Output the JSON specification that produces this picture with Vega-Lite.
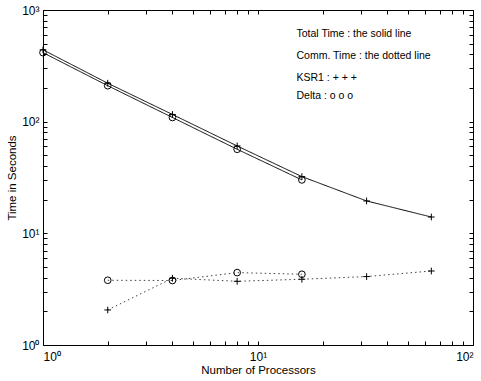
{
  "$schema": "https://vega.github.io/schema/vega-lite/v6.json",
  "autosize": "none",
  "width": 430,
  "height": 335,
  "padding": {"left": 43, "top": 10, "right": 8, "bottom": 36},
  "background": "white",
  "config": {
    "view": {"stroke": "black", "strokeWidth": 1},
    "font": "Liberation Sans",
    "axis": {"labelFont": "Liberation Sans", "titleFont": "Liberation Sans", "labelColor": "black", "titleColor": "black", "domain": false, "grid": false, "tickColor": "black", "tickSize": -4, "labelFontSize": 12, "titleFontSize": 11.5, "titleFontWeight": "normal"}
  },
  "datasets": {
    "series": [
      {"p": 1, "time": 440, "machine": "KSR1", "kind": "Total"},
      {"p": 2, "time": 221, "machine": "KSR1", "kind": "Total"},
      {"p": 4, "time": 116, "machine": "KSR1", "kind": "Total"},
      {"p": 8, "time": 60.6, "machine": "KSR1", "kind": "Total"},
      {"p": 16, "time": 32.2, "machine": "KSR1", "kind": "Total"},
      {"p": 32, "time": 19.5, "machine": "KSR1", "kind": "Total"},
      {"p": 64, "time": 14.0, "machine": "KSR1", "kind": "Total"},
      {"p": 1, "time": 415, "machine": "Delta", "kind": "Total"},
      {"p": 2, "time": 210, "machine": "Delta", "kind": "Total"},
      {"p": 4, "time": 109, "machine": "Delta", "kind": "Total"},
      {"p": 8, "time": 56.6, "machine": "Delta", "kind": "Total"},
      {"p": 16, "time": 30.1, "machine": "Delta", "kind": "Total"},
      {"p": 2, "time": 2.06, "machine": "KSR1", "kind": "Comm"},
      {"p": 4, "time": 3.96, "machine": "KSR1", "kind": "Comm"},
      {"p": 8, "time": 3.72, "machine": "KSR1", "kind": "Comm"},
      {"p": 16, "time": 3.88, "machine": "KSR1", "kind": "Comm"},
      {"p": 32, "time": 4.1, "machine": "KSR1", "kind": "Comm"},
      {"p": 64, "time": 4.6, "machine": "KSR1", "kind": "Comm"},
      {"p": 2, "time": 3.8, "machine": "Delta", "kind": "Comm"},
      {"p": 4, "time": 3.78, "machine": "Delta", "kind": "Comm"},
      {"p": 8, "time": 4.45, "machine": "Delta", "kind": "Comm"},
      {"p": 16, "time": 4.3, "machine": "Delta", "kind": "Comm"}
    ],
    "notes": [
      {"p": 15.1, "time": 610, "label": "Total Time : the solid line"},
      {"p": 15.1, "time": 390, "label": "Comm. Time : the dotted line"},
      {"p": 15.1, "time": 245, "label": "KSR1 : + + +"},
      {"p": 15.1, "time": 171, "label": "Delta : o o o"}
    ]
  },
  "layer": [
    {
      "data": {"name": "series"},
      "mark": {"type": "line", "color": "black", "strokeWidth": 1},
      "encoding": {
        "x": {"field": "p", "type": "quantitative", "scale": {"type": "log", "domain": [1, 100], "nice": false},
          "axis": {"orient": "bottom", "title": "Number of Processors", "values": [1,2,3,4,5,6,7,8,9,10,20,30,40,50,60,70,80,90,100],
            "labelExpr": "datum.value == 1 ? '10⁰' : datum.value == 10 ? '10¹' : datum.value == 100 ? '10²' : ''", "labelPadding": 10, "titlePadding": 2}},
        "y": {"field": "time", "type": "quantitative", "scale": {"type": "log", "domain": [1, 1000], "nice": false},
          "axis": {"orient": "left", "title": "Time in Seconds", "values": [1,2,3,4,5,6,7,8,9,10,20,30,40,50,60,70,80,90,100,200,300,400,500,600,700,800,900,1000],
            "labelExpr": "datum.value == 1 ? '10⁰' : datum.value == 10 ? '10¹' : datum.value == 100 ? '10²' : datum.value == 1000 ? '10³' : ''", "labelPadding": 8, "titlePadding": 4}},
        "detail": {"field": "machine"},
        "strokeDash": {"field": "kind", "type": "nominal", "scale": {"domain": ["Total", "Comm"], "range": [[1, 0], [1.5, 3]]}, "legend": null},
        "opacity": {"field": "kind", "type": "nominal", "scale": {"domain": ["Total", "Comm"], "range": [1, 0.75]}, "legend": null}
      }
    },
    {
      "data": {"name": "series"},
      "mark": {"type": "point", "color": "black", "filled": false, "strokeWidth": 1, "size": 45, "opacity": 1},
      "encoding": {
        "x": {"field": "p", "type": "quantitative", "axis": {"orient": "top", "title": null, "labels": false, "values": [1,2,3,4,5,6,7,8,9,10,20,30,40,50,60,70,80,90,100]}},
        "y": {"field": "time", "type": "quantitative", "axis": {"orient": "right", "title": null, "labels": false, "values": [1,2,3,4,5,6,7,8,9,10,20,30,40,50,60,70,80,90,100,200,300,400,500,600,700,800,900,1000]}},
        "shape": {"field": "machine", "type": "nominal", "scale": {"domain": ["KSR1", "Delta"], "range": ["M-1,0L1,0M0,-1L0,1", "circle"]}, "legend": null}
      }
    },
    {
      "data": {"name": "notes"},
      "mark": {"type": "text", "align": "left", "baseline": "middle", "fontSize": 10.5, "color": "black", "font": "Liberation Sans"},
      "encoding": {
        "x": {"field": "p", "type": "quantitative", "axis": null},
        "y": {"field": "time", "type": "quantitative", "axis": null},
        "text": {"field": "label"}
      }
    }
  ],
  "resolve": {"axis": {"x": "independent", "y": "independent"}}
}
